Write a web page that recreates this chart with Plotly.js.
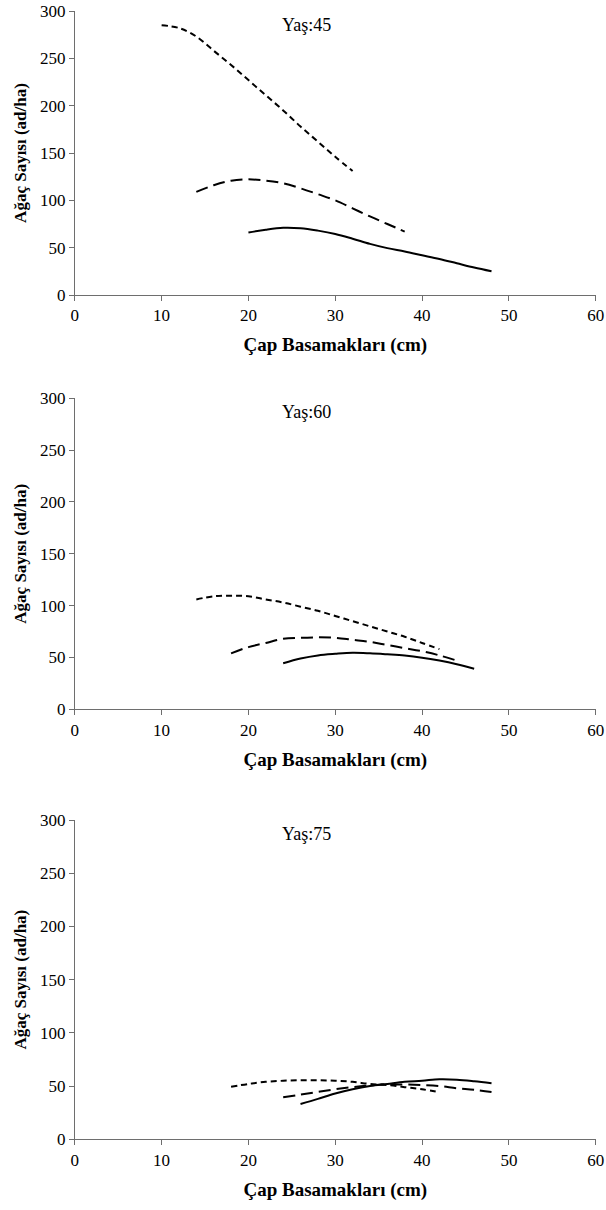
<!DOCTYPE html>
<html>
<head>
<meta charset="utf-8">
<script src="https://cdn.plot.ly/plotly-3.0.1.min.js"></script>
<style>html,body{margin:0;padding:0;background:#fff;}#chart{width:606px;height:1210px;}</style>
</head>
<body>
<div id="chart"></div>
<script>
// Panel titles
const panelTitles = ["Yaş:45", "Yaş:60", "Yaş:75"];
const xTitle = "Çap Basamakları (cm)";
const yTitle = "Ağaç Sayısı (ad/ha)";

// Age 45
const x45_short = [10, 12, 14, 16, 18, 20, 22, 24, 26, 28, 30, 32];
const y45_short = [285, 282, 273, 258, 243, 227, 211, 195, 178, 162, 146, 131];
const x45_long = [14, 16, 18, 20, 22, 24, 26, 28, 30, 32, 34, 36, 38];
const y45_long = [109, 116, 120.8, 122.2, 120.8, 118, 112.7, 106.5, 100, 91.5, 83, 75, 67];
const x45_solid = [20, 22, 24, 26, 28, 30, 32, 34, 36, 38, 40, 42, 44, 46, 48];
const y45_solid = [66, 69, 71, 70.5, 68, 64.5, 59.5, 54, 49.5, 46, 42, 38, 33.5, 29, 25];

// Age 60
const x60_short = [14, 16, 18, 20, 22, 24, 26, 28, 30, 32, 34, 36, 38, 40, 42];
const y60_short = [106, 109, 109.6, 109, 106, 103, 99, 95, 90, 85, 80, 75, 70, 64, 58];
const x60_long = [18, 20, 22, 24, 26, 28, 30, 32, 34, 36, 38, 40, 42, 44];
const y60_long = [54, 60, 64, 68, 69, 69.4, 69, 67, 65, 62, 59, 56, 52, 47];
const x60_solid = [24, 26, 28, 30, 32, 34, 36, 38, 40, 42, 44, 46];
const y60_solid = [44.4, 49, 52, 53.5, 54.5, 54, 53, 51.8, 49.8, 47, 43.5, 39.2];

// Age 75
const x75_short = [18, 20, 22, 24, 26, 28, 30, 32, 34, 36, 38, 40, 42];
const y75_short = [49.4, 52, 54, 55, 55.5, 55.5, 55, 54, 52, 51, 49, 47, 44.2];
const x75_long = [24, 26, 28, 30, 32, 34, 36, 38, 40, 42, 44, 46, 48];
const y75_long = [39.5, 42, 44.5, 47, 49, 50.5, 51.5, 51.5, 51, 50, 48, 46.5, 44.4];
const x75_solid = [26, 28, 30, 32, 34, 36, 38, 40, 42, 44, 46, 48];
const y75_solid = [33.2, 38, 43, 47, 50, 52, 54, 55, 56.4, 56, 54.5, 52.6];

const xTicks = [0, 10, 20, 30, 40, 50, 60];
const yTicks = [0, 50, 100, 150, 200, 250, 300];

const FONT = "Liberation Serif";
const shortDash = "6px,4px";
const longDash = "12px,6px";

function tr(x, y, dash, ax) {
  return {x: x, y: y, type: 'scatter', mode: 'lines',
    line: {color: '#000', width: 2, dash: dash, shape: 'spline', smoothing: 1},
    xaxis: 'x' + ax, yaxis: 'y' + ax, showlegend: false, hoverinfo: 'skip'};
}

const data = [
  tr(x45_short, y45_short, shortDash, ''), tr(x45_long, y45_long, longDash, ''), tr(x45_solid, y45_solid, 'solid', ''),
  tr(x60_short, y60_short, shortDash, '2'), tr(x60_long, y60_long, longDash, '2'), tr(x60_solid, y60_solid, 'solid', '2'),
  tr(x75_short, y75_short, shortDash, '3'), tr(x75_long, y75_long, longDash, '3'), tr(x75_solid, y75_solid, 'solid', '3')
];

// pixel positions (page 1210 tall)
const H = 1210;
const yDomains = [[295, 11], [709.3, 398.3], [1139.3, 820]].map(p => [(H - p[0]) / H, (H - p[1]) / H]);
const xDomain = [74.8 / 606, 595.7 / 606];

function xa(anchor) {
  return {domain: xDomain, range: [0, 60], tickvals: xTicks, ticktext: xTicks.map(String),
    showline: true, linecolor: '#6e6e6e', linewidth: 1, ticks: 'outside', ticklen: 5, tickcolor: '#6e6e6e',
    showgrid: false, zeroline: false, anchor: anchor, fixedrange: true,
    tickfont: {family: FONT, size: 17, color: '#000'},
    title: {text: xTitle, font: {family: FONT, size: 19, color: '#000', weight: 'bold'}, standoff: 13}};
}
function ya(dom, anchor) {
  return {domain: dom, range: [0, 300], tickvals: yTicks, ticktext: yTicks.map(String),
    showline: true, linecolor: '#6e6e6e', linewidth: 1, ticks: 'outside', ticklen: 5, tickcolor: '#6e6e6e',
    showgrid: false, zeroline: false, anchor: anchor, fixedrange: true,
    tickfont: {family: FONT, size: 17, color: '#000'},
    title: {text: yTitle, font: {family: FONT, size: 17, color: '#000', weight: 'bold'}, standoff: 8}};
}

const annotations = panelTitles.map((t, i) => ({
  text: t, xref: 'paper', yref: 'paper', x: 306 / 606, y: yDomains[i][1] - 2 / H,
  xanchor: 'center', yanchor: 'top', showarrow: false,
  font: {family: FONT, size: 18, color: '#000'}
}));

const layout = {
  width: 606, height: 1210, margin: {l: 0, r: 0, t: 0, b: 0},
  paper_bgcolor: '#fff', plot_bgcolor: '#fff',
  font: {family: FONT},
  xaxis: xa('y'), yaxis: ya(yDomains[0], 'x'),
  xaxis2: xa('y2'), yaxis2: ya(yDomains[1], 'x2'),
  xaxis3: xa('y3'), yaxis3: ya(yDomains[2], 'x3'),
  annotations: annotations, showlegend: false
};

Plotly.newPlot('chart', data, layout, {displayModeBar: false, staticPlot: true});
</script>
</body>
</html>
